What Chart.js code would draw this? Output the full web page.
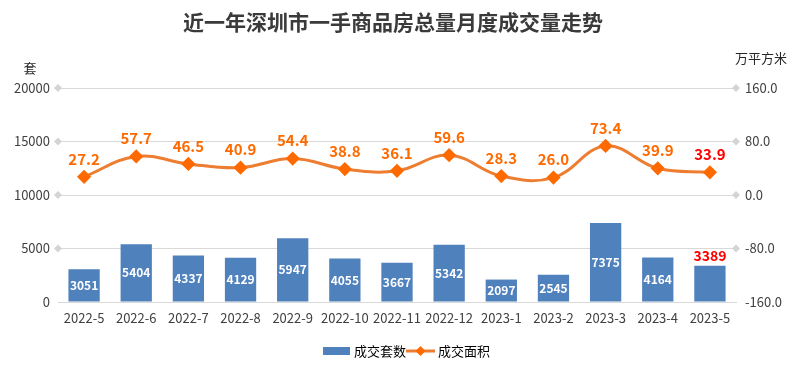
<!DOCTYPE html>
<html>
<head>
<meta charset="utf-8">
<script src="https://cdn.jsdelivr.net/npm/chart.js@4"></script>
<style>
  body { margin: 0; background: #fff; }
  #wrap { width: 807px; height: 388px; }
</style>
</head>
<body>
<div id="wrap"><canvas id="salesChart" width="807" height="388"></canvas></div>
<script>
// data
const months = ['2022-5', '2022-6', '2022-7', '2022-8', '2022-9', '2022-10', '2022-11', '2022-12', '2023-1', '2023-2', '2023-3', '2023-4', '2023-5'];
const units = [3051, 5404, 4337, 4129, 5947, 4055, 3667, 5342, 2097, 2545, 7375, 4164, 3389];
const area = [27.2, 57.7, 46.5, 40.9, 54.4, 38.8, 36.1, 59.6, 28.3, 26.0, 73.4, 39.9, 33.9];

const FONT = '"Noto Sans CJK SC", "Microsoft YaHei", sans-serif';

// labels, title, axis units, legend and gridline diamonds
const decorPlugin = {
    id: 'decor',
    afterDatasetsDraw(chart) {
        const ctx = chart.ctx;
        const last = months.length - 1;
        ctx.save();
        ctx.textAlign = 'center';
        ctx.textBaseline = 'middle';

        // bar labels
        chart.getDatasetMeta(0).data.forEach((bar, i) => {
            if (i === last) {
                ctx.font = 'bold 14px ' + FONT;
                ctx.fillStyle = '#ff0000';
                ctx.fillText(units[i], bar.x, bar.y - 10);
            } else {
                ctx.font = 'bold 12px ' + FONT;
                ctx.fillStyle = '#ffffff';
                ctx.fillText(units[i], bar.x, (bar.y + bar.base) / 2);
            }
        });

        // line labels
        chart.getDatasetMeta(1).data.forEach((pt, i) => {
            ctx.font = 'bold 15px ' + FONT;
            ctx.fillStyle = i === last ? '#ff0000' : '#ff6a00';
            ctx.fillText(area[i].toFixed(1), pt.x, pt.y - 18);
        });
        ctx.restore();
    },
    beforeDatasetsDraw(chart) {
        const ctx = chart.ctx;
        const ca = chart.chartArea;
        const yl = chart.scales.y;
        ctx.save();
        ctx.fillStyle = '#d4d4d4';
        yl.ticks.forEach(t => {
            if (t.value === 0) return;
            const y = yl.getPixelForValue(t.value);
            [ca.left, ca.right].forEach(x => {
                ctx.beginPath();
                ctx.moveTo(x, y - 4);
                ctx.lineTo(x + 4, y);
                ctx.lineTo(x, y + 4);
                ctx.lineTo(x - 4, y);
                ctx.closePath();
                ctx.fill();
            });
        });
        ctx.restore();
    },
    afterDraw(chart) {
        const ctx = chart.ctx;
        ctx.save();
        ctx.textBaseline = 'middle';

        // title
        ctx.fillStyle = '#3a3a3a';
        ctx.font = 'bold 21px ' + FONT;
        ctx.textAlign = 'center';
        ctx.fillText('近一年深圳市一手商品房总量月度成交量走势', 393, 22);

        // axis units
        ctx.font = '13px ' + FONT;
        ctx.fillStyle = '#262626';
        ctx.fillText('套', 30, 68);
        ctx.textAlign = 'left';
        ctx.fillText('万平方米', 735, 58);

        // legend
        ctx.fillStyle = '#4f81bd';
        ctx.fillRect(323, 347, 27, 8);
        ctx.font = '13px ' + FONT;
        ctx.fillStyle = '#000000';
        ctx.fillText('成交套数', 354, 351);
        ctx.strokeStyle = '#ed7d31';
        ctx.lineWidth = 3;
        ctx.beginPath();
        ctx.moveTo(406, 351);
        ctx.lineTo(435, 351);
        ctx.stroke();
        ctx.fillStyle = '#ff6a00';
        ctx.beginPath();
        ctx.moveTo(420.5, 346);
        ctx.lineTo(425.5, 351);
        ctx.lineTo(420.5, 356);
        ctx.lineTo(415.5, 351);
        ctx.closePath();
        ctx.fill();
        ctx.fillStyle = '#000000';
        ctx.fillText('成交面积', 438, 351);
        ctx.restore();
    }
};

const salesCtx = document.getElementById('salesChart').getContext('2d');
const salesChart = new Chart(salesCtx, {
    type: 'bar',
    data: {
        labels: months,
        datasets: [{
            type: 'bar',
            label: '成交套数',
            data: units,
            backgroundColor: '#4f81bd',
            yAxisID: 'y',
            barPercentage: 0.6,
            categoryPercentage: 1.0,
            order: 2
        }, {
            type: 'line',
            label: '成交面积',
            data: area,
            yAxisID: 'y1',
            borderColor: '#ed7d31',
            borderWidth: 3,
            tension: 0.4,
            pointStyle: 'rectRot',
            pointRadius: 5,
            pointBackgroundColor: '#ff6a00',
            pointBorderColor: '#ff6a00',
            fill: false,
            order: 1
        }]
    },
    options: {
        responsive: false,
        animation: false,
        layout: {
            padding: { top: 88, left: 0, right: 0, bottom: 0 }
        },
        plugins: {
            legend: { display: false },
            title: { display: false },
            tooltip: { enabled: false }
        },
        scales: {
            x: {
                grid: { display: false, drawTicks: false },
                border: { color: '#d9d9d9' },
                ticks: {
                    padding: 8,
                    color: '#404040',
                    font: { family: FONT, size: 13 },
                    maxRotation: 0,
                    autoSkip: false
                },
                afterFit: function (scale) { scale.height = 86; }
            },
            y: {
                position: 'left',
                min: 0,
                max: 20000,
                ticks: {
                    stepSize: 5000,
                    padding: 8,
                    color: '#404040',
                    font: { family: FONT, size: 13 },
                    callback: function (value) { return String(value); }
                },
                grid: { color: '#d9d9d9', drawTicks: false },
                border: { display: false },
                afterFit: function (scale) { scale.width = 58; }
            },
            y1: {
                position: 'right',
                min: -160,
                max: 160,
                ticks: {
                    stepSize: 80,
                    padding: 9,
                    color: '#404040',
                    font: { family: FONT, size: 13 },
                    callback: function (value) { return value.toFixed(1); }
                },
                grid: { display: false, drawTicks: false },
                border: { display: false },
                afterFit: function (scale) { scale.width = 71; }
            }
        }
    },
    plugins: [decorPlugin]
});
</script>
</body>
</html>
